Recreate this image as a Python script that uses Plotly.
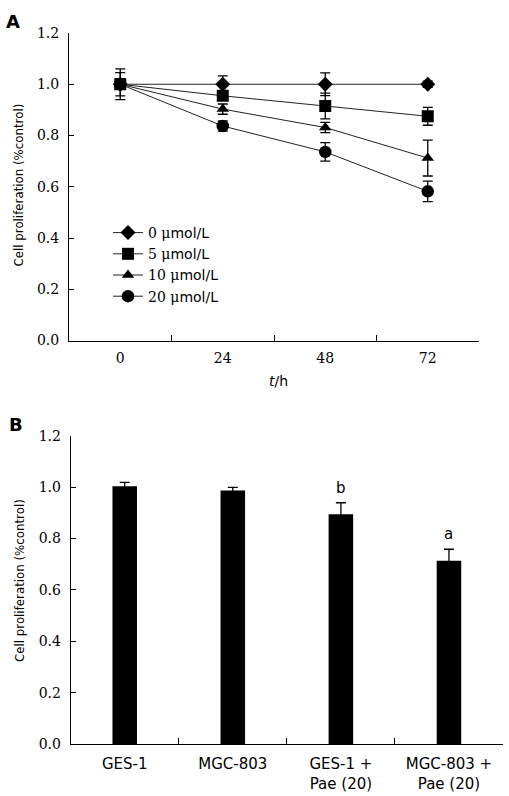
import plotly.graph_objects as go

# ---------------- Data ----------------
time_labels = ["0", "24", "48", "72"]
conc_labels = ["0", "5", "10", "20"]
conc_symbols = ["diamond", "square", "triangle-up", "circle"]
conc_sizes = [11.5, 12, 11, 12.5]
prolif_0 = [1.00, 1.00, 1.00, 1.00]
prolif_5 = [1.00, 0.955, 0.915, 0.875]
prolif_10 = [1.00, 0.903, 0.831, 0.712]
prolif_20 = [1.00, 0.837, 0.736, 0.582]
err_0 = [0.045, 0.033, 0.044, 0.012]
err_5 = [0.060, 0.015, 0.050, 0.035]
err_10 = [0.020, 0.020, 0.020, 0.070]
err_20 = [0.020, 0.020, 0.036, 0.040]

groups = ["GES-1", "MGC-803", "GES-1 +<br>Pae (20)", "MGC-803 +<br>Pae (20)"]
bar_vals = [1.003, 0.987, 0.894, 0.713]
bar_errs = [0.015, 0.012, 0.045, 0.045]
bar_marks = ["", "", "b", "a"]

W, H = 509, 796
SERIF = "DejaVu Serif"
SANS = "DejaVu Sans"


def px_x(p):
    return p / W


def px_y(p):
    return 1 - p / H


fig = go.Figure()

series = [prolif_0, prolif_5, prolif_10, prolif_20]
errs = [err_0, err_5, err_10, err_20]
for lab, sym, sz, ys, es in zip(conc_labels, conc_symbols, conc_sizes, series, errs):
    name = (f'<span style="font-family:{SERIF}">{lab} μ</span>mol/L')
    fig.add_trace(go.Scatter(
        x=time_labels, y=ys, mode="lines+markers", name=name,
        line=dict(color="#222222", width=1),
        marker=dict(symbol=sym, size=sz, color="black"),
        error_y=dict(type="data", array=es, visible=True, color="black",
                     thickness=1.3, width=5),
        xaxis="x", yaxis="y",
    ))

fig.add_trace(go.Bar(
    x=groups, y=bar_vals, marker=dict(color="black", line=dict(width=0)),
    error_y=dict(type="data", array=bar_errs, visible=True, color="black",
                 thickness=1.3, width=5),
    showlegend=False, xaxis="x2", yaxis="y2",
))

axis_common = dict(showline=True, linecolor="black", linewidth=1,
                   ticks="inside", tickcolor="black", tickwidth=1,
                   showgrid=False, zeroline=False, automargin=False)

fig.update_layout(
    width=W, height=H,
    margin=dict(l=0, r=0, t=0, b=0),
    paper_bgcolor="white", plot_bgcolor="white",
    bargap=0.773,
    xaxis=dict(**axis_common, domain=[px_x(69), px_x(479)], type="category",
               categoryorder="array", categoryarray=time_labels,
               range=[-0.5, 3.5], tickson="boundaries", ticklen=6,
               tickfont=dict(family=SERIF, size=14, color="black"),
               ticklabelstandoff=5, anchor="y"),
    yaxis=dict(**axis_common, domain=[px_y(340.5), px_y(33)], range=[0, 1.2],
               tickvals=[0, 0.2, 0.4, 0.6, 0.8, 1.0, 1.2],
               ticktext=["0.0", "0.2", "0.4", "0.6", "0.8", "1.0", "1.2"],
               tickfont=dict(family=SERIF, size=14, color="black"),
               ticklen=5, ticklabelstandoff=6, anchor="x"),
    xaxis2=dict(**axis_common, domain=[px_x(70.7), px_x(503)], type="category",
                categoryorder="array", categoryarray=groups,
                range=[-0.5, 3.5], tickson="boundaries", ticklen=6,
                tickfont=dict(family=SANS, size=15, color="black"),
                ticklabelstandoff=6, anchor="y2"),
    yaxis2=dict(**axis_common, domain=[px_y(744), px_y(435.7)], range=[0, 1.2],
                tickvals=[0, 0.2, 0.4, 0.6, 0.8, 1.0, 1.2],
                ticktext=["0.0", "0.2", "0.4", "0.6", "0.8", "1.0", "1.2"],
                tickfont=dict(family=SERIF, size=14, color="black"),
                ticklen=5, ticklabelstandoff=6, anchor="x2"),
    legend=dict(x=px_x(108), y=px_y(217), xanchor="left", yanchor="top",
                bgcolor="rgba(0,0,0,0)",
                font=dict(family=SANS, size=14, color="black")),
    showlegend=True,
)

ann_c = dict(xref="paper", yref="paper", showarrow=False,
             xanchor="center", yanchor="middle")
annotations = [
    dict(text="<b>A</b>", x=px_x(13), y=px_y(22), **ann_c,
         font=dict(family=SANS, size=18, color="black")),
    dict(text="<b>B</b>", x=px_x(16), y=px_y(424), **ann_c,
         font=dict(family=SANS, size=18, color="black")),
    dict(text="Cell proliferation (%control)", x=px_x(18.5), y=px_y(185),
         textangle=-90, **ann_c,
         font=dict(family=SANS, size=11.8, color="black")),
    dict(text="Cell proliferation (%control)", x=px_x(20), y=px_y(581),
         textangle=-90, **ann_c,
         font=dict(family=SANS, size=11.8, color="black")),
    dict(text="<i>t</i>/h", x=px_x(278), y=px_y(381), **ann_c,
         font=dict(family=SANS, size=14, color="black")),
]
for g, v, e, m in zip(groups, bar_vals, bar_errs, bar_marks):
    if m:
        annotations.append(dict(text=m, x=g, y=v + e, xref="x2", yref="y2",
                                yanchor="bottom", yshift=4, showarrow=False,
                                font=dict(family=SANS, size=15, color="black")))
fig.update_layout(annotations=annotations)

fig.write_html("out.html",
               config={"displayModeBar": False},
               post_script="document.body.style.margin='0';"
                           "document.body.style.overflow='hidden';")
